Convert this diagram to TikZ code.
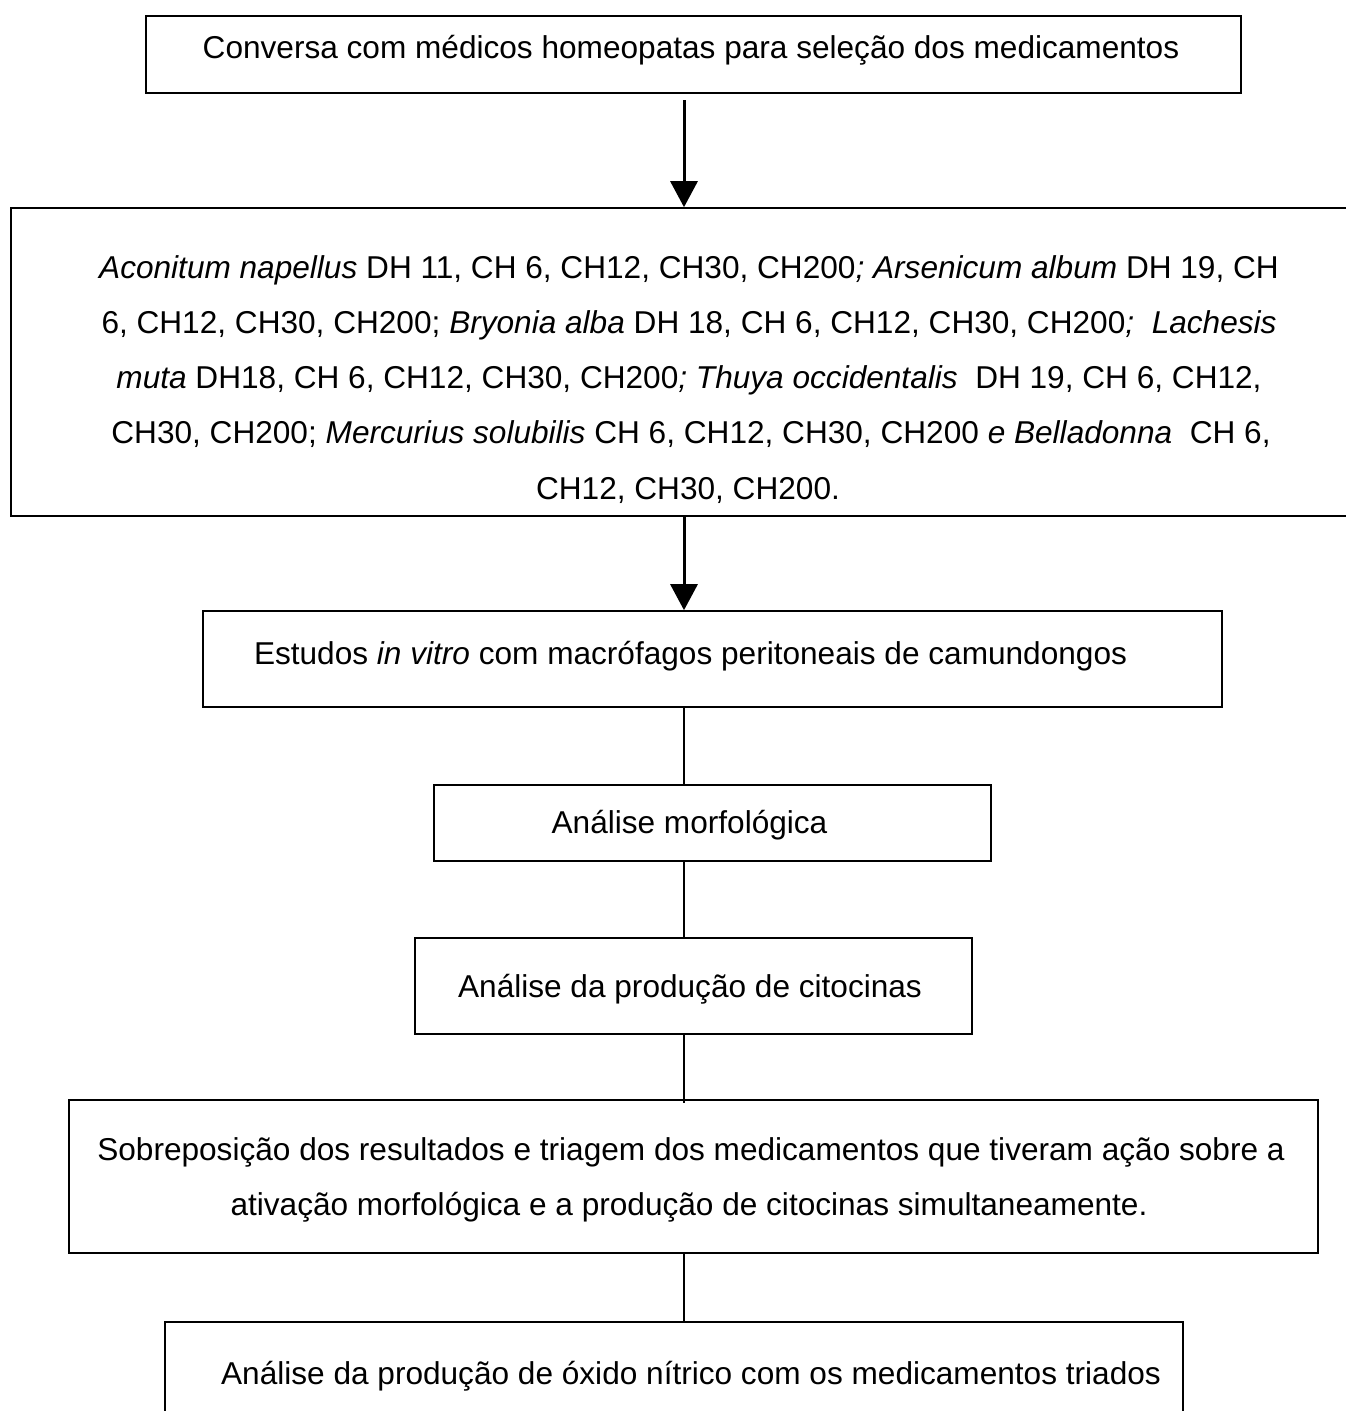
\documentclass[tikz,border=0pt]{standalone}
\usepackage{fontspec}
\setmainfont{Liberation Sans}
\usetikzlibrary{arrows.meta}
\begin{document}
\begin{tikzpicture}[x=1pt,y=-1pt,
  box/.style={draw=black,line width=1.6pt,inner sep=0pt,rectangle},
  txt/.style={anchor=base,inner sep=0pt,font=\fontsize{31.6}{55}\selectfont},
  link/.style={draw=black,line width=1.6pt},
  arrowlink/.style={draw=black,line width=3pt,-{Triangle[width=27pt,length=26pt]}}]
\useasboundingbox (0,0) rectangle (1346,1411);
\fill[white] (0,0) rectangle (1346,1411);
% boxes
\node[box,minimum width=1095pt,minimum height=77pt] (b1) at (693.5,54.5) {};
\node[box,minimum width=1355pt,minimum height=308pt] (b2) at (688.5,362) {};
\node[box,minimum width=1019pt,minimum height=96pt] (b3) at (712.5,659) {};
\node[box,minimum width=557pt,minimum height=76pt] (b4) at (712.5,823) {};
\node[box,minimum width=557pt,minimum height=96pt] (b5) at (693.5,986) {};
\node[box,minimum width=1249pt,minimum height=153pt] (b6) at (693.5,1176.5) {};
\node[box,minimum width=1018pt,minimum height=110pt] (b7) at (674,1377) {};
% texts
\node[txt] (t1) at (691,58) {Conversa com médicos homeopatas para seleção dos medicamentos};
\node[txt] (t2a) at (689,278) {\textit{Aconitum napellus} DH 11, CH 6, CH12, CH30, CH200\textit{; Arsenicum album} DH 19, CH};
\node[txt] (t2b) at (689,333) {6, CH12, CH30, CH200; \textit{Bryonia alba} DH 18, CH 6, CH12, CH30, CH200\textit{;\ \ Lachesis}};
\node[txt] (t2c) at (689,388) {\textit{muta} DH18, CH 6, CH12, CH30, CH200\textit{; Thuya occidentalis}\ \ DH 19, CH 6, CH12,};
\node[txt] (t2d) at (691,443) {CH30, CH200; \textit{Mercurius solubilis} CH 6, CH12, CH30, CH200 \textit{e Belladonna}\ \ CH 6,};
\node[txt] (t2e) at (688,499) {CH12, CH30, CH200.};
\node[txt] (t3) at (690.5,664) {Estudos \textit{in vitro} com macrófagos peritoneais de camundongos};
\node[txt] (t4) at (689.5,833) {Análise morfológica};
\node[txt] (t5) at (690,997) {Análise da produção de citocinas};
\node[txt] (t6a) at (691,1160) {Sobreposição dos resultados e triagem dos medicamentos que tiveram ação sobre a};
\node[txt] (t6b) at (689,1215) {ativação morfológica e a produção de citocinas simultaneamente.};
\node[txt] (t7) at (691,1384) {Análise da produção de óxido nítrico com os medicamentos triados};
% connectors
\coordinate (a1) at (684,100);
\coordinate (xl) at (684,0);
\draw[arrowlink] (a1) -- (b2.north -| a1);
\draw[arrowlink] (b2.south -| xl) -- (b3.north -| xl);
\draw[link] (b3.south -| xl) -- (b4.north -| xl);
\draw[link] (b4.south -| xl) -- (b5.north -| xl);
\draw[link,shorten >=-4pt] (b5.south -| xl) -- (b6.north -| xl);
\draw[link] (b6.south -| xl) -- (b7.north -| xl);
\end{tikzpicture}
\end{document}
